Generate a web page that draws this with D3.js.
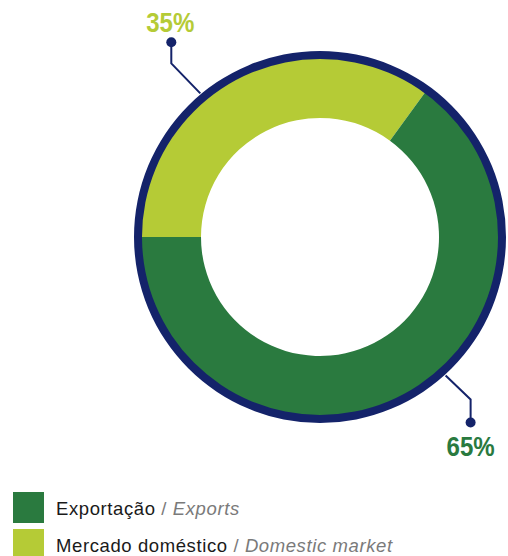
<!DOCTYPE html>
<html>
<head>
<meta charset="utf-8">
<script src="https://cdn.jsdelivr.net/npm/d3@7"></script>
<style>
  html, body { margin: 0; padding: 0; background: #fff; }
  svg { display: block; }
</style>
</head>
<body>
<svg id="chart" width="508" height="556"></svg>
<script>
// Share of sales by destination
const categories = ["Exportação", "Mercado doméstico"];
const categoriesEn = ["Exports", "Domestic market"];
const values = [65, 35];
const colors = ["#2a7a3f", "#b5cb36"];
const valueLabels = ["65%", "35%"];

const navy = "#14236a";
const svg = d3.select("#chart");
const cx = 320, cy = 237;
const rOuter = 186, rRing = 178, rInner = 119;

const data = categories.map((c, i) => ({ name: c, en: categoriesEn[i], value: values[i], color: colors[i], label: valueLabels[i] }));

// Domestic slice starts at 9 o'clock, exports follow clockwise
const pie = d3.pie().value(d => d.value).sort(null)
  .startAngle(-Math.PI / 2).endAngle(3 * Math.PI / 2);
const slices = pie([data[1], data[0]]);

const g = svg.append("g").attr("transform", `translate(${cx},${cy})`);
const arc = d3.arc().innerRadius(rInner).outerRadius(rRing + 1);

g.selectAll("path.slice").data(slices).enter().append("path")
  .attr("class", "slice")
  .attr("d", arc)
  .attr("fill", d => d.data.color);

// outer navy rim
g.append("path")
  .attr("d", d3.arc().innerRadius(rRing).outerRadius(rOuter).startAngle(0).endAngle(2 * Math.PI)())
  .attr("fill", navy);

// leader lines: start on the rim, elbow, then a vertical run to a dot
const leaders = [
  { name: "Mercado doméstico", angle: -39.8, dx: -29, dy: -30, vy: -21, lx: -1, ly: -10 },
  { name: "Exportação", angle: 137.8, dx: 25, dy: 24, vy: 23, lx: 0, ly: 33 }
];
leaders.forEach(l => {
  const d = data.find(x => x.name === l.name);
  const a = l.angle * Math.PI / 180;
  const x0 = Math.sin(a) * (rOuter + 1), y0 = -Math.cos(a) * (rOuter + 1);
  const x1 = x0 + l.dx, y1 = y0 + l.dy;
  const x2 = x1, y2 = y1 + l.vy;
  g.append("path")
    .attr("d", d3.line()([[x0, y0], [x1, y1], [x2, y2]]))
    .attr("fill", "none").attr("stroke", navy).attr("stroke-width", 2);
  g.append("circle").attr("cx", x2).attr("cy", y2).attr("r", 5).attr("fill", navy);
  g.append("text")
    .attr("transform", `translate(${x2 + l.lx},${y2 + l.ly}) scale(0.86,1)`)
    .attr("text-anchor", "middle")
    .attr("font-family", "'Liberation Sans', Arial, sans-serif")
    .attr("font-weight", "bold")
    .attr("font-size", 28)
    .attr("fill", d.color)
    .text(d.label);
});

// legend
const legend = svg.append("g").attr("transform", "translate(13,492)");
const rows = legend.selectAll("g").data(data).enter().append("g")
  .attr("transform", (d, i) => `translate(0,${i * 37})`);
rows.append("rect").attr("width", 31).attr("height", 31).attr("fill", d => d.color);
const t = rows.append("text").attr("x", 43).attr("y", 22.5)
  .attr("font-family", "'Liberation Sans', Arial, sans-serif")
  .attr("font-size", 18.5)
  .attr("letter-spacing", 0.6);
t.append("tspan").attr("fill", "#1a1a1a").text(d => d.name);
t.append("tspan").attr("fill", "#7a7a7a").text(" / ");
t.append("tspan").attr("fill", "#7a7a7a").attr("font-style", "italic").text(d => d.en);
</script>
</body>
</html>
